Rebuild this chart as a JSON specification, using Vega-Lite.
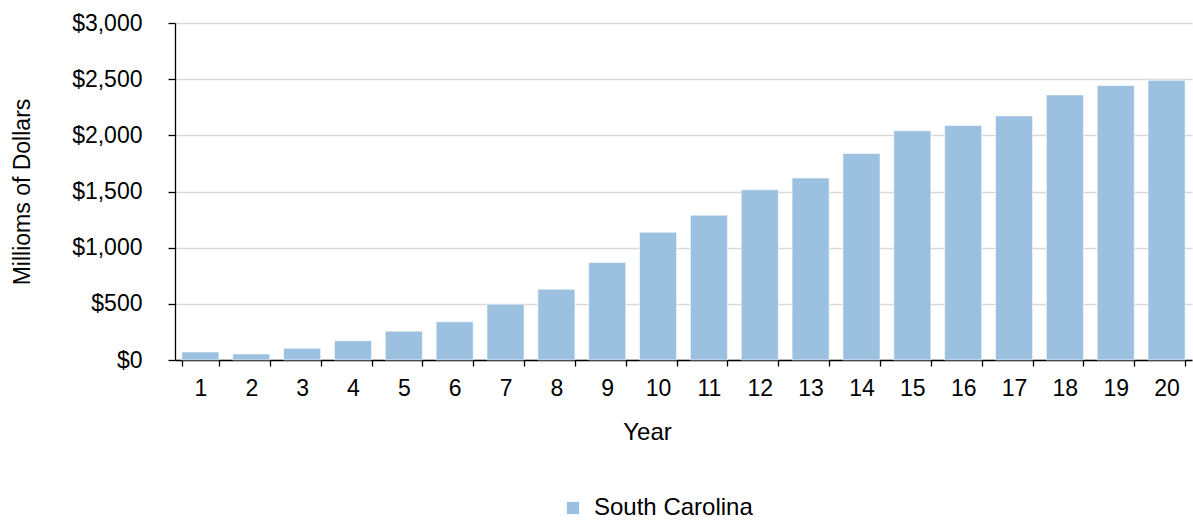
{
  "$schema": "https://vega.github.io/schema/vega-lite/v6.json",
  "width": 1017,
  "height": 337,
  "autosize": "none",
  "padding": {"left": 175, "top": 23, "right": 1, "bottom": 161},
  "background": "white",
  "config": {
    "font": "Liberation Sans",
    "view": {"stroke": null},
    "axis": {"labelFont": "Liberation Sans", "titleFont": "Liberation Sans", "labelColor": "#000000", "titleColor": "#000000", "titleFontWeight": "normal"}
  },
  "data": {
    "values": [
      {"Year": "1", "Value": 71, "Series": "South Carolina"},
      {"Year": "2", "Value": 53, "Series": "South Carolina"},
      {"Year": "3", "Value": 104, "Series": "South Carolina"},
      {"Year": "4", "Value": 171, "Series": "South Carolina"},
      {"Year": "5", "Value": 257, "Series": "South Carolina"},
      {"Year": "6", "Value": 340, "Series": "South Carolina"},
      {"Year": "7", "Value": 497, "Series": "South Carolina"},
      {"Year": "8", "Value": 630, "Series": "South Carolina"},
      {"Year": "9", "Value": 868, "Series": "South Carolina"},
      {"Year": "10", "Value": 1137, "Series": "South Carolina"},
      {"Year": "11", "Value": 1289, "Series": "South Carolina"},
      {"Year": "12", "Value": 1515, "Series": "South Carolina"},
      {"Year": "13", "Value": 1620, "Series": "South Carolina"},
      {"Year": "14", "Value": 1838, "Series": "South Carolina"},
      {"Year": "15", "Value": 2040, "Series": "South Carolina"},
      {"Year": "16", "Value": 2088, "Series": "South Carolina"},
      {"Year": "17", "Value": 2173, "Series": "South Carolina"},
      {"Year": "18", "Value": 2360, "Series": "South Carolina"},
      {"Year": "19", "Value": 2444, "Series": "South Carolina"},
      {"Year": "20", "Value": 2490, "Series": "South Carolina"}
    ]
  },
  "mark": {"type": "bar", "stroke": "#ffffff", "strokeWidth": 0.6},
  "encoding": {
    "x": {
      "field": "Year",
      "type": "ordinal",
      "sort": null,
      "scale": {"paddingInner": 0.27, "paddingOuter": 0.135},
      "axis": {
        "title": "Year",
        "titleFontSize": 24,
        "titleX": 472,
        "titlePadding": 20,
        "labelFontSize": 23,
        "labelAngle": 0,
        "labelPadding": 11,
        "domainColor": "#000000",
        "domainWidth": 1.3,
        "tickColor": "#000000",
        "tickWidth": 1.3,
        "tickSize": 6,
        "tickBand": "extent"
      }
    },
    "y": {
      "field": "Value",
      "type": "quantitative",
      "scale": {"domain": [0, 3000], "nice": false},
      "axis": {
        "title": "Millioms of Dollars",
        "titleFontSize": 23,
        "titlePadding": 37,
        "labelFontSize": 23,
        "labelPadding": 26,
        "format": "$,.0f",
        "values": [0, 500, 1000, 1500, 2000, 2500, 3000],
        "domainColor": "#000000",
        "domainWidth": 1.3,
        "tickColor": "#000000",
        "tickWidth": 1.3,
        "tickSize": 7,
        "grid": true,
        "gridColor": "#d9d9d9",
        "gridWidth": 1.3
      }
    },
    "color": {
      "field": "Series",
      "type": "nominal",
      "scale": {"range": ["#9BC0E0"]},
      "legend": {
        "title": null,
        "orient": "none",
        "legendX": 386,
        "legendY": 473,
        "symbolType": "square",
        "symbolSize": 150,
        "symbolStrokeWidth": 0,
        "labelFontSize": 24,
        "labelFont": "Liberation Sans",
        "labelColor": "#000000",
        "labelOffset": 9,
        "padding": 0
      }
    }
  }
}
